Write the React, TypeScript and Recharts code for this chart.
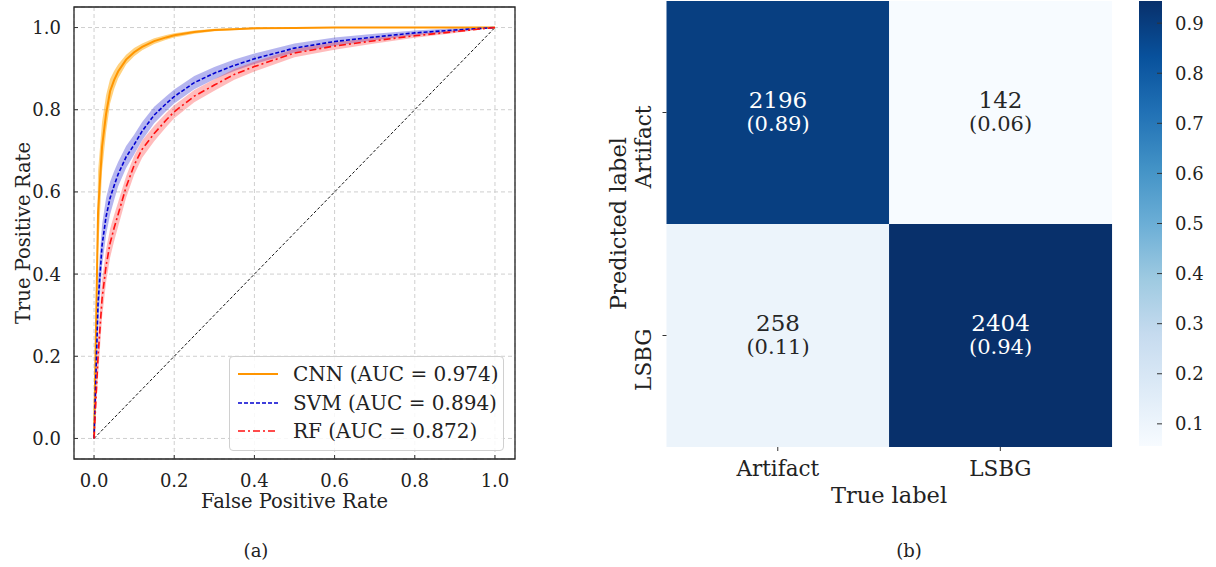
import React from 'react';
import {
  ComposedChart, Line, Area, XAxis, YAxis, CartesianGrid, ReferenceArea, ReferenceLine, Legend,
  BarChart, Bar, Cell, LabelList,
} from 'recharts';

const FONT = '"DejaVu Serif", serif';

// ---- (a) ROC curves: mean TPR on a shared FPR grid, with +/- 1 std bands ----
const fprGrid = [0, 0.01, 0.02, 0.03, 0.04, 0.05, 0.06, 0.08, 0.1, 0.12, 0.15, 0.18, 0.2, 0.25, 0.3, 0.35, 0.4, 0.5, 0.6, 0.7, 0.8, 0.9, 1.0];
const cnnTpr = [0, 0.55, 0.71, 0.79, 0.845, 0.872, 0.893, 0.922, 0.94, 0.953, 0.967, 0.976, 0.981, 0.989, 0.994, 0.996, 0.998, 0.999, 1, 1, 1, 1, 1];
const cnnStd = [0, 0.1, 0.06, 0.045, 0.03, 0.022, 0.017, 0.012, 0.01, 0.008, 0.007, 0.006, 0.005, 0.004, 0.003, 0.002, 0.002, 0.001, 0.001, 0, 0, 0, 0];
const svmTpr = [0, 0.33, 0.47, 0.54, 0.585, 0.615, 0.643, 0.685, 0.715, 0.748, 0.787, 0.815, 0.832, 0.866, 0.889, 0.908, 0.924, 0.95, 0.966, 0.977, 0.987, 0.994, 1];
const svmStd = [0, 0.06, 0.05, 0.045, 0.04, 0.035, 0.03, 0.027, 0.024, 0.022, 0.02, 0.018, 0.017, 0.016, 0.015, 0.014, 0.013, 0.011, 0.01, 0.008, 0.006, 0.004, 0];
const rfTpr = [0, 0.2, 0.34, 0.42, 0.475, 0.512, 0.545, 0.612, 0.665, 0.704, 0.742, 0.775, 0.795, 0.833, 0.86, 0.886, 0.905, 0.938, 0.955, 0.968, 0.98, 0.99, 1];
const rfStd = [0, 0.05, 0.045, 0.04, 0.035, 0.032, 0.03, 0.026, 0.023, 0.021, 0.019, 0.017, 0.016, 0.015, 0.014, 0.013, 0.012, 0.01, 0.009, 0.007, 0.005, 0.003, 0];

const modelNames = ['CNN', 'SVM', 'RF'];
const aucValues = [0.974, 0.894, 0.872];
const rocTicks = [0, 0.2, 0.4, 0.6, 0.8, 1.0];
const chanceLine = [{ x: 0, y: 0 }, { x: 1, y: 1 }];

const band = (m: number[], s: number[], i: number) => [Math.max(0, m[i] - s[i]), Math.min(1, m[i] + s[i])];

const rocData = fprGrid.map((fpr, i) => ({
  fpr,
  cnn: cnnTpr[i],
  svm: svmTpr[i],
  rf: rfTpr[i],
  cnnBand: band(cnnTpr, cnnStd, i),
  svmBand: band(svmTpr, svmStd, i),
  rfBand: band(rfTpr, rfStd, i),
}));

const seriesStyle = [
  { key: 'cnn', color: '#ff9500', dash: undefined as string | undefined, width: 2, bandFill: '#ffa500', bandOpacity: 0.5 },
  { key: 'svm', color: '#0000d0', dash: '4 2', width: 1.6, bandFill: '#2a2ad0', bandOpacity: 0.35 },
  { key: 'rf', color: '#ff1010', dash: '7 3 2 3', width: 1.6, bandFill: '#ff2020', bandOpacity: 0.3 },
];

// ---- (b) confusion matrix, columns = true label, rows = predicted label ----
const classLabels = ['Artifact', 'LSBG'];
const predArtifactCounts = [2196, 142];
const predLsbgCounts = [258, 2404];
const colTotals = classLabels.map((_, i) => predArtifactCounts[i] + predLsbgCounts[i]);
const predArtifactRatio = predArtifactCounts.map((c, i) => c / colTotals[i]);
const predLsbgRatio = predLsbgCounts.map((c, i) => c / colTotals[i]);
const allRatios = [...predArtifactRatio, ...predLsbgRatio];
const vmin = Math.min(...allRatios);
const vmax = Math.max(...allRatios);
const colorbarTicks = [0.1, 0.2, 0.3, 0.4, 0.5, 0.6, 0.7, 0.8, 0.9];

const heatData = classLabels.map((name) => ({ name, lsbgRow: 1, artifactRow: 1 }));
const colorbarData = [{ name: 'scale', range: [vmin, vmax] }];

// matplotlib "Blues"
const blues = ['#f7fbff', '#deebf7', '#c6dbef', '#9ecae1', '#6baed6', '#4292c6', '#2171b5', '#08519c', '#08306b'];

const hexToRgb = (h: string) => [1, 3, 5].map((o) => parseInt(h.slice(o, o + 2), 16));
const bluesColor = (v: number) => {
  const t = Math.max(0, Math.min(1, (v - vmin) / (vmax - vmin))) * (blues.length - 1);
  const i = Math.min(blues.length - 2, Math.floor(t));
  const f = t - i;
  const a = hexToRgb(blues[i]);
  const b = hexToRgb(blues[i + 1]);
  const c = a.map((av, k) => Math.round(av + (b[k] - av) * f));
  return `rgb(${c[0]},${c[1]},${c[2]})`;
};

const Y_GAP = 13;
const X_GAP = 14;

const RocYTick = (props: any) => {
  const { x, y, payload } = props;
  return (
    <g>
      <line x1={x + Y_GAP} x2={x + Y_GAP + 4} y1={y} y2={y} stroke="#333" />
      <text x={x} y={y} textAnchor="end" dominantBaseline="central" fontSize={18} fontFamily={FONT} fill="#222">
        {payload.value.toFixed(1)}
      </text>
    </g>
  );
};

const RocXTick = (props: any) => {
  const { x, y, payload } = props;
  return (
    <g>
      <line x1={x} x2={x} y1={y - X_GAP} y2={y - X_GAP - 4} stroke="#333" />
      <text x={x} y={y} dy="0.75em" textAnchor="middle" fontSize={18} fontFamily={FONT} fill="#222">
        {payload.value.toFixed(1)}
      </text>
    </g>
  );
};

const RocLegend = () => (
  <div
    style={{
      border: '1px solid #d0d0d0',
      borderRadius: 4,
      background: 'rgba(255,255,255,0.85)',
      padding: '3px 8px 4px 7px',
      fontFamily: FONT,
      fontSize: 20,
      color: '#222',
    }}
  >
    {modelNames.map((name, i) => (
      <div key={name} style={{ display: 'flex', alignItems: 'center', height: 28.5 }}>
        <svg width={56} height={10} style={{ flex: 'none' }}>
          <line x1={1} x2={41} y1={5} y2={5} stroke={seriesStyle[i].color} strokeWidth={seriesStyle[i].width} strokeDasharray={seriesStyle[i].dash} />
        </svg>
        <span style={{ whiteSpace: 'nowrap' }}>{`${name} (AUC = ${aucValues[i].toFixed(3)})`}</span>
      </div>
    ))}
  </div>
);

const HeatYTick = (props: any) => {
  const { x, y, payload } = props;
  const label = payload.value > 1 ? classLabels[0] : classLabels[1];
  const axisX = x + 16;
  return (
    <g>
      <line x1={axisX - 4} x2={axisX} y1={y} y2={y} stroke="#333" />
      <text
        x={x}
        y={y - 7}
        transform={`rotate(-90, ${x}, ${y - 7})`}
        textAnchor="end"
        fontSize={21.5}
        fontFamily={FONT}
        fill="#222"
      >
        {label}
      </text>
    </g>
  );
};

const HeatXTick = (props: any) => {
  const { x, y, payload } = props;
  return (
    <g>
      <line x1={x} x2={x} y1={y - 13} y2={y - 9} stroke="#333" />
      <text x={x} y={y} dy="0.74em" textAnchor="middle" fontSize={21.5} fontFamily={FONT} fill="#222">
        {payload.value}
      </text>
    </g>
  );
};

const ColorbarTick = (props: any) => {
  const { x, y, payload } = props;
  return (
    <g>
      <line x1={x - 13 - 5} x2={x - 13} y1={y} y2={y} stroke="#333" />
      <text x={x} y={y} textAnchor="start" dominantBaseline="central" fontSize={18} fontFamily={FONT} fill="#222">
        {payload.value.toFixed(1)}
      </text>
    </g>
  );
};

const makeCellLabel = (counts: number[], ratios: number[]) => (props: any) => {
  const { x, y, width, height, index } = props;
  const cx = x + width / 2;
  const cy = y + height / 2;
  const fill = ratios[index] > 0.5 ? '#ffffff' : '#262626';
  return (
    <g>
      <text x={cx} y={cy - 13} textAnchor="middle" dominantBaseline="central" fontSize={23} fontFamily={FONT} fill={fill}>
        {counts[index]}
      </text>
      <text x={cx} y={cy + 11} textAnchor="middle" dominantBaseline="central" fontSize={21} fontFamily={FONT} fill={fill}>
        ({ratios[index].toFixed(2)})
      </text>
    </g>
  );
};

export default function App() {
  return (
    <div style={{ position: 'absolute', left: 0, top: 0, width: 1216, height: 567, background: '#fff', fontFamily: FONT }}>
      {/* (a) ROC */}
      <div style={{ position: 'absolute', left: 0, top: 0 }}>
        <ComposedChart width={530} height={520} data={rocData} margin={{ top: 7, right: 15, left: 14, bottom: 11 }}>
          <CartesianGrid stroke="#cfcfcf" strokeDasharray="4 3" />
          <XAxis
            type="number"
            dataKey="fpr"
            domain={[-0.05, 1.05]}
            ticks={rocTicks}
            allowDataOverflow
            height={50}
            tickSize={0}
            tickMargin={X_GAP}
            axisLine={false}
            tickLine={false}
            tick={<RocXTick />}
          />
          <YAxis
            type="number"
            domain={[-0.05, 1.05]}
            ticks={rocTicks}
            allowDataOverflow
            width={60}
            tickSize={0}
            tickMargin={Y_GAP}
            axisLine={false}
            tickLine={false}
            tick={<RocYTick />}
          />
          {seriesStyle.map((s) => (
            <Area
              key={s.key + 'Band'}
              type="linear"
              dataKey={s.key + 'Band'}
              stroke="none"
              fill={s.bandFill}
              fillOpacity={s.bandOpacity}
              isAnimationActive={false}
              legendType="none"
            />
          ))}
          <ReferenceLine segment={chanceLine} stroke="#111" strokeWidth={1} strokeDasharray="3 2" />
          {seriesStyle.map((s) => (
            <Line
              key={s.key}
              type="linear"
              dataKey={s.key}
              stroke={s.color}
              strokeWidth={s.width}
              strokeDasharray={s.dash}
              dot={false}
              isAnimationActive={false}
            />
          ))}
          <ReferenceArea x1={-0.05} x2={1.05} y1={-0.05} y2={1.05} fill="none" fillOpacity={0} stroke="#222" strokeWidth={1.3} />
          <Legend
            layout="vertical"
            align="center"
            verticalAlign="middle"
            content={<RocLegend />}
            wrapperStyle={{ left: 229, top: 356, width: 275, height: 93 }}
          />
        </ComposedChart>
      </div>

      {/* (b) confusion matrix */}
      <div style={{ position: 'absolute', left: 590, top: 0 }}>
        <BarChart width={530} height={520} data={heatData} barCategoryGap={0} margin={{ top: 1, right: 8.4, left: 26.5, bottom: 33 }}>
          <XAxis
            dataKey="name"
            type="category"
            height={40}
            tickSize={0}
            tickMargin={13}
            axisLine={false}
            tickLine={false}
            tick={<HeatXTick />}
            interval={0}
          />
          <YAxis
            type="number"
            domain={[0, 2]}
            ticks={[0.5, 1.5]}
            width={50}
            tickSize={0}
            tickMargin={16}
            axisLine={false}
            tickLine={false}
            tick={<HeatYTick />}
          />
          <Bar dataKey="lsbgRow" stackId="cm" isAnimationActive={false}>
            {heatData.map((d, i) => (
              <Cell key={d.name} fill={bluesColor(predLsbgRatio[i])} />
            ))}
            <LabelList content={makeCellLabel(predLsbgCounts, predLsbgRatio)} />
          </Bar>
          <Bar dataKey="artifactRow" stackId="cm" isAnimationActive={false}>
            {heatData.map((d, i) => (
              <Cell key={d.name} fill={bluesColor(predArtifactRatio[i])} />
            ))}
            <LabelList content={makeCellLabel(predArtifactCounts, predArtifactRatio)} />
          </Bar>
        </BarChart>
      </div>

      {/* colorbar */}
      <div style={{ position: 'absolute', left: 1100, top: 0 }}>
        <BarChart width={116} height={460} data={colorbarData} barCategoryGap={0} margin={{ top: 1, right: 4, left: 39, bottom: 14 }}>
          <defs>
            <linearGradient id="bluesGrad" x1="0" y1="0" x2="0" y2="1">
              {blues.slice().reverse().map((c, i) => (
                <stop key={c} offset={`${(i / (blues.length - 1)) * 100}%`} stopColor={c} />
              ))}
            </linearGradient>
          </defs>
          <XAxis dataKey="name" hide />
          <YAxis
            orientation="right"
            type="number"
            domain={[vmin, vmax]}
            ticks={colorbarTicks}
            allowDataOverflow
            width={50}
            tickSize={0}
            tickMargin={13}
            axisLine={false}
            tickLine={false}
            tick={<ColorbarTick />}
          />
          <Bar dataKey="range" fill="url(#bluesGrad)" isAnimationActive={false} />
        </BarChart>
      </div>

      {/* axis titles and captions */}
      <svg width={1216} height={567} style={{ position: 'absolute', left: 0, top: 0, pointerEvents: 'none' }}>
        <text x={30} y={233} transform="rotate(-90, 30, 233)" textAnchor="middle" fontSize={19.5} fontFamily={FONT} fill="#222">
          True Positive Rate
        </text>
        <text x={294.5} y={508} textAnchor="middle" fontSize={19.5} fontFamily={FONT} fill="#222">
          False Positive Rate
        </text>
        <text x={256} y={557} textAnchor="middle" fontSize={18} fontFamily={FONT} fill="#222">
          (a)
        </text>
        <text x={626} y={223.5} transform="rotate(-90, 626, 223.5)" textAnchor="middle" fontSize={22.5} fontFamily={FONT} fill="#222">
          Predicted label
        </text>
        <text x={889} y={503} textAnchor="middle" fontSize={22.5} fontFamily={FONT} fill="#222">
          True label
        </text>
        <text x={909} y={557} textAnchor="middle" fontSize={18} fontFamily={FONT} fill="#222">
          (b)
        </text>
      </svg>
    </div>
  );
}
